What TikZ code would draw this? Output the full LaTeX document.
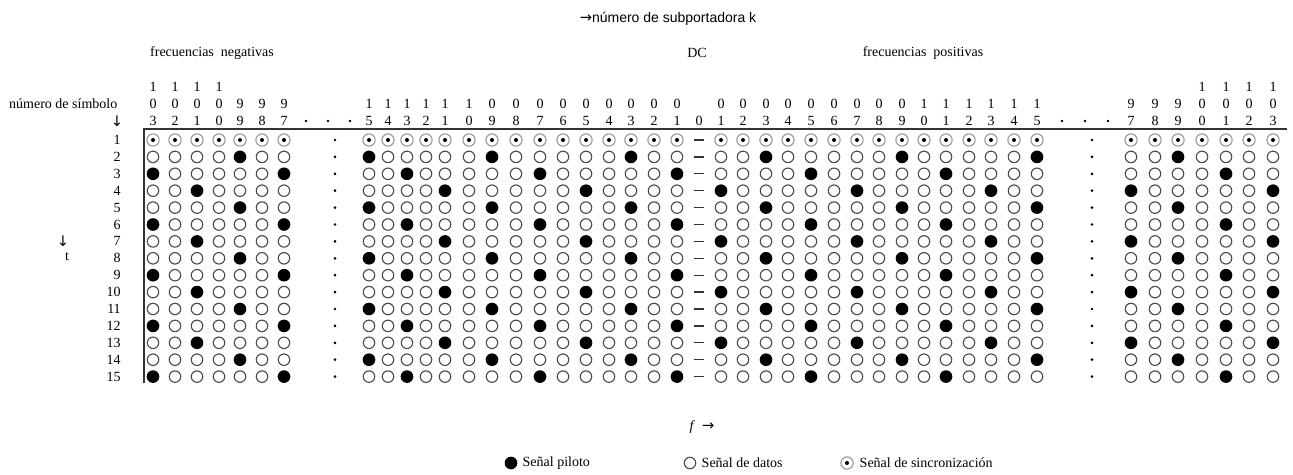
\documentclass[tikz,border=0pt]{standalone}
\usepackage{fontspec}
\setmainfont{Liberation Serif}
\newfontfamily\sansfam{Liberation Sans}
\newfontfamily\flechas{DejaVu Sans}
\usepackage{tikz}
\usetikzlibrary{positioning}

\begin{document}
\begin{tikzpicture}[x=0.75pt,y=-0.75pt,font=\fontsize{10.5}{12}\selectfont,
  pilot/.style={circle,fill=black,inner sep=0pt,minimum size=9.5pt},
  datos/.style={circle,draw=black!70,line width=0.85pt,inner sep=0pt,minimum size=8.6pt},
  sinc/.style={circle,draw=black!40,line width=0.85pt,inner sep=0pt,minimum size=9.2pt,
    path picture={\fill[black] (path picture bounding box.center) circle (1.5pt);}},
  cifra/.style={inner sep=0pt},
  punto/.style={circle,fill=black,inner sep=0pt,minimum size=2.2pt},
  flecha/.style={font=\flechas\fontsize{11}{12}\selectfont},
  eje/.style={line width=1.1pt,black!80}]
  \useasboundingbox (0,0) rectangle (1293,475);
  % columnas: subportadora k / posicion x
  \def\cols{-103/153,-102/175,-101/197,-100/219,-99/240,-98/262,-97/284,
    -15/369,-14/388,-13/407,-12/426,-11/445,-10/469,-9/492,-8/516,-7/540,
    -6/563,-5/586,-4/609,-3/631,-2/654,-1/677,
    1/721,2/743,3/766,4/788,5/811,6/834,7/857,8/879,9/902,10/924,11/946,
    12/969,13/991,14/1014,15/1037,
    97/1131,98/1155,99/1178,100/1202,101/1226,102/1249,103/1273}

  % cabecera con los numeros de subportadora
  \foreach \k/\x [count=\c] in \cols {
    \pgfmathtruncatemacro\ka{abs(\k)}
    \pgfmathtruncatemacro\kcen{int(\ka/100)}
    \pgfmathtruncatemacro\kdec{int(mod(\ka,100)/10)}
    \pgfmathtruncatemacro\kuni{mod(\ka,10)}
    \ifnum\ka>99 \node[cifra] (cen\c) at (\x,87) {\kcen}; \fi
    \node[cifra] (dec\c) at (\x,104) {\kdec};
    \node[cifra] (uni\c) at (\x,121) {\kuni};
  }
  \node[cifra] (uni0) at (699,121) {0};
  \foreach \x [count=\c] in {306,328,350,1062,1085,1108}
    \node[punto] (hp\c) at (\x,121) {};

  \draw[eje] (144,383) -- (144,129) -- (1287,129);

  % simbolos: fila 1 sincronizacion, pilotos cada 6 subportadoras
  \foreach \r in {1,...,15} {
    \pgfmathsetmacro\y{140+(\r-1)*16.9}
    \node[anchor=east,inner sep=0pt] (n\r) at (121,\y) {\r};
    \node[punto] (pi\r) at (335,\y) {};
    \node[punto] (pd\r) at (1092,\y) {};
    \draw[line width=1pt,black!80] (693.5,\y) -- (704,\y);
    \foreach \k/\x [count=\c] in \cols {
      \pgfmathtruncatemacro\p{mod(\k-2*\r+1+600,6)}
      \ifnum\r=1 \node[sinc] (s\r-\c) at (\x,\y) {};
      \else\ifnum\p=0 \node[pilot] (s\r-\c) at (\x,\y) {};
      \else \node[datos] (s\r-\c) at (\x,\y) {};
      \fi\fi
    }
  }

  \node[anchor=east] (simb) at (122,104) {número de símbolo};
  \node[flecha] (flsimb) at (117,121) {↓};
  \node[flecha] (flt) at (63,241) {↓};
  \node (t) at (67,257) {t};
  \node (titulo) at (668,19) {\sansfam{\flechas\fontsize{11}{12}\selectfont →}número de subportadora k};
  \node (neg) at (212,53) {frecuencias\ \ negativas};
  \node (dc) at (697,53) {DC};
  \node (pos) at (923,53) {frecuencias\ \ positivas};
  \node (feje) at (702,427) {\textit{f}\enspace{\flechas\fontsize{11}{12}\selectfont →}};

  % leyenda
  \node[pilot] (lpil) at (511,463) {};
  \node[anchor=west] (tpil) at (518,463) {Señal piloto};
  \node[datos] (ldat) at (690,463) {};
  \node[anchor=west] (tdat) at (697,463) {Señal de datos};
  \node[sinc] (lsin) at (847,463) {};
  \node[anchor=west] (tsin) at (855,463) {Señal de sincronización};
\end{tikzpicture}
\end{document}
